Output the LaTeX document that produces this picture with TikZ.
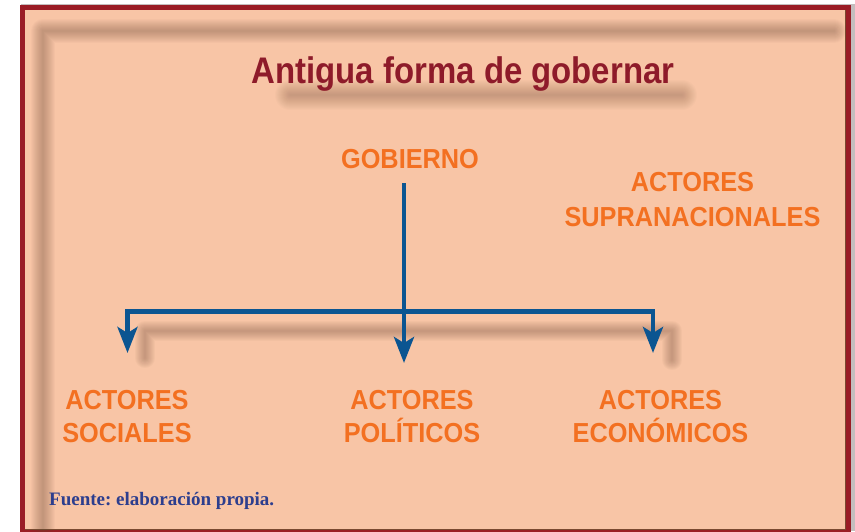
\documentclass[tikz,border=0pt]{standalone}
\usepackage{fontspec}
\usetikzlibrary{arrows.meta}
\newfontfamily\titlefont{Liberation Sans}[FakeStretch=0.89]
\newfontfamily\orfont{Liberation Sans}[FakeStretch=0.92]
\newfontfamily\footfont{Liberation Serif}
\frenchspacing
\definecolor{peach}{HTML}{F8C5A6}
\definecolor{orangetxt}{HTML}{F37021}
\definecolor{titlered}{HTML}{8E1B2A}
\definecolor{framered}{HTML}{9A1C25}
\definecolor{arrowblue}{HTML}{0B5591}
\definecolor{innerbrown}{HTML}{7A4A30}
\definecolor{outergray}{HTML}{C4BEBE}
\definecolor{shadowc}{HTML}{6E4A38}
\definecolor{footblue}{HTML}{2D3E8E}
\tikzset{
  actor/.style={align=center, inner sep=0pt, anchor=north, text=orangetxt,
    font=\orfont\bfseries\fontsize{27.5}{33}\selectfont},
  conn/.style={draw=arrowblue, line width=4.5pt, line join=miter,
    -{Stealth[length=26pt, width=20pt, inset=6pt]}},
  conn2/.style={draw=arrowblue, line width=4.5pt, line join=miter,
    {Stealth[length=26pt, width=20pt, inset=6pt]}-{Stealth[length=26pt, width=20pt, inset=6pt]}},
  blur/.style={draw=shadowc, draw opacity=0.035, line cap=round, line join=round}
}
\begin{document}
\begin{tikzpicture}[x=1pt, y=-1pt]
\useasboundingbox (0,0) rectangle (855,531);
% outer frame
\fill[white] (0,0) rectangle (855,531);
\fill[outergray] (21,3.5) rectangle (855,531);
\fill[framered] (20,5) rectangle (851,545);
\fill[peach] (25,10) rectangle (846,529);
\draw[innerbrown, line width=1pt] (845.5,10) -- (845.5,529) -- (25,529);
% inner frame shadow
\foreach \w in {2,4,...,24}
  \draw[blur, line width=\w pt] (834,31) -- (43,31) -- (43,545);
% title shadow
\foreach \w in {2,4,...,30}
  \draw[blur, draw opacity=0.022, line width=\w pt] (290,95) -- (682,95);
% connector shadow
\foreach \w in {2,4,...,20}
  \draw[blur, draw opacity=0.04, line width=\w pt] (145,358) -- (145,331) -- (672,331) -- (672,360);
% texts
\node[anchor=base, inner sep=0pt, text=titlered,
  font=\titlefont\bfseries\fontsize{37}{44}\selectfont] (title) at (463,83) {Antigua forma de gobernar};
\node[actor, anchor=base] (gob) at (410,168) {GOBIERNO};
\node[actor, font=\orfont\bfseries\fontsize{27.5}{34.5}\selectfont] (supra) at (692.5,172.3) {ACTORES\\SUPRANACIONALES};
\node[actor] (soc) at (127,390.3) {ACTORES\\SOCIALES};
\node[actor] (pol) at (412,390.3) {ACTORES\\POLÍTICOS};
\node[actor] (eco) at (660.5,390.3) {ACTORES\\ECONÓMICOS};
\node[anchor=base west, inner sep=0pt, text=footblue,
  font=\footfont\bfseries\fontsize{19}{23}\selectfont] (foot) at (49,505) {Fuente: elaboración propia.};
% connectors
\draw[conn] ([xshift=-6pt, yshift=-15pt]gob.base) -- ([xshift=-8pt, yshift=27.3pt]pol.north);
\coordinate (bar) at (653,311.5);
\draw[conn2] ([xshift=0.5pt, yshift=37.3pt]soc.north) |- (bar) -- ([xshift=-7.5pt, yshift=37.3pt]eco.north);
\end{tikzpicture}
\end{document}
